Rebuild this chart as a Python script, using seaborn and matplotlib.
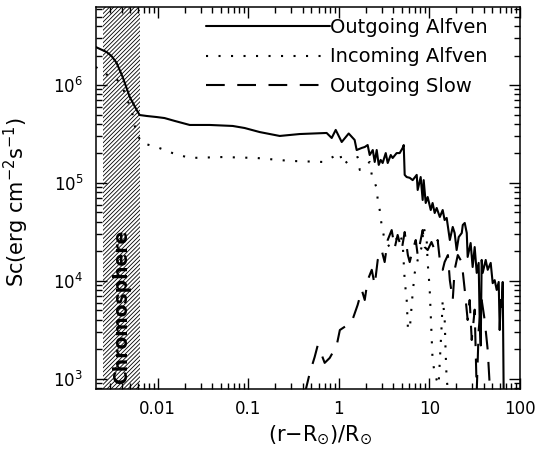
import numpy as np
import pandas as pd
import matplotlib
matplotlib.use("Agg")
import matplotlib.pyplot as plt
import matplotlib.transforms as mtransforms
import seaborn as sns
from matplotlib.lines import Line2D
from matplotlib.ticker import (FixedLocator, FixedFormatter, LogLocator, NullFormatter,
                               LogFormatterSciNotation)

# ---------------------------------------------------------------- data
# height above the photosphere, (r - Rsun)/Rsun, and energy flux Sc (erg cm^-2 s^-1)
out_alfven_x = [0.00207, 0.00273, 0.00310, 0.00352, 0.00410, 0.00491, 0.00586, 0.00632,
                0.00755, 0.00975, 0.0119, 0.0154, 0.0226, 0.0376, 0.0674, 0.0914, 0.134,
                0.223, 0.371, 0.736, 0.837, 0.927, 1.08, 1.29, 1.50, 1.58, 1.80, 1.94,
                2.09, 2.20, 2.38, 2.50, 2.63, 2.77, 2.91, 3.06, 3.31, 3.48, 3.76, 3.95,
                4.37, 4.72, 5.09, 5.23, 5.36, 5.64, 6.09, 6.57, 7.28, 7.46, 8.05, 8.47,
                8.69, 9.15, 9.62, 10.4, 10.9, 11.5, 12.1, 13.1, 14.1, 14.8, 15.6, 16.9,
                18.2, 19.1, 20.1, 21.2, 22.9, 23.5, 24.7, 26.0, 26.6, 28.7, 30.2, 31.8,
                33.5, 35.2, 36.1, 37.1, 38.0, 39.0, 42.1, 44.3, 47.8, 50.3, 52.9, 55.7,
                58.6, 60.1, 61.7, 63.2, 64.9, 66.5]
out_alfven_y = [2.44e6, 2.17e6, 1.97e6, 1.68e6, 1.21e6, 7.55e5, 5.56e5, 4.94e5,
                4.83e5, 4.71e5, 4.60e5, 4.30e5, 3.91e5, 3.91e5, 3.82e5, 3.64e5, 3.31e5,
                3.02e5, 3.16e5, 3.24e5, 2.88e5, 3.48e5, 2.62e5, 3.2e5, 2.75e5, 2.17e5, 2.28e5, 2.33e5,
                2.44e5, 1.93e5, 2.17e5, 1.64e5, 2.17e5, 1.53e5, 1.72e5, 1.60e5, 2.02e5, 1.60e5, 1.93e5, 1.80e5,
                2.02e5, 2.02e5, 2.28e5, 2.44e5, 1.21e5, 1.15e5, 1.13e5, 1.07e5, 1.21e5, 8.49e4, 1.15e5, 6.71e4,
                1.07e5, 6.25e4, 7.19e4, 5.30e4, 6.25e4, 4.94e4, 5.56e4, 4.50e4, 5.30e4, 4.19e4, 4.40e4, 2.62e4,
                3.56e4, 3.09e4, 2.07e4, 2.81e4, 3.09e4, 3.73e4, 3.91e4, 3.09e4, 1.76e4, 2.44e4, 1.39e4, 2.22e4,
                1.21e4, 1.53e4, 4.0e3, 2.2e3, 1.64e4, 1.21e4, 1.64e4, 1.30e4, 1.53e4, 9.5e3, 1.02e4, 8.1e3,
                9.77e3, 3.16e3, 6.4e3, 5.43e3, 9.77e3, 7.0e2]

in_alfven_x = [0.00207, 0.00260, 0.00344, 0.00410, 0.00454, 0.00516, 0.00543, 0.00586,
               0.00665, 0.00975, 0.0146, 0.0226, 0.0523, 0.124, 0.288, 0.665, 0.859,
               1.03, 1.11, 1.32, 1.62, 1.71, 2.20, 2.32, 2.63, 2.70, 2.84, 2.98, 3.22,
               3.66, 4.16, 4.72, 5.09, 5.36, 5.64, 5.81, 6.09, 6.57, 6.92, 7.46, 8.26,
               8.69, 9.38, 9.62, 10.1, 10.6, 10.9, 11.5, 12.1, 12.7, 13.7, 14.1, 14.8,
               15.2, 15.6, 16.4]
in_alfven_y = [1.53e6, 1.30e6, 1.18e6, 9.54e5, 7.20e5, 5.69e5, 4.19e5, 3.24e5,
               2.56e5, 2.33e5, 2.02e5, 1.80e5, 1.84e5, 1.80e5, 1.68e5, 1.64e5, 1.84e5,
               2.02e5, 1.53e5, 1.72e5, 1.84e5, 1.36e5, 1.64e5, 1.21e5, 8.89e4, 6.71e4, 5.30e4, 3.73e4, 2.62e4,
               2.22e4, 2.50e4, 3.09e4, 2.44e4, 1.02e4, 6.4e3, 3.4e3, 3.16e3, 7.55e3, 1.21e4, 1.64e4, 2.22e4,
               3.56e4, 2.62e4, 1.53e4, 8.69e3, 2.95e3, 1.56e3, 1.15e3, 9.77e2, 8.7e2, 3.4e3, 6.4e3, 4.3e3,
               1.84e3, 9.77e2, 7.0e2]

out_slow_x = [0.421, 0.479, 0.543, 0.586, 0.649, 0.700, 0.796, 0.950, 1.03, 1.39, 1.62,
              1.80, 1.94, 2.09, 2.32, 2.50, 2.70, 2.98, 3.22, 3.48, 3.85, 4.16, 4.48,
              4.96, 5.36, 5.81, 6.09, 6.57, 7.10, 7.46, 7.85, 8.47, 8.92, 9.62, 10.6,
              11.5, 12.4, 13.1, 14.1, 14.8, 16.1, 16.9, 18.2, 19.1, 20.7, 22.9, 24.7,
              26.6, 28.0, 29.5, 31.8, 33.5, 35.2, 38.0, 41.0, 44.3, 46.6]
out_slow_y = [7.0e2, 1.15e3, 1.68e3, 2.2e3, 1.76e3, 1.46e3, 1.64e3, 2.2e3, 3.16e3, 3.8e3, 5.7e3,
              8.1e3, 6.4e3, 1.02e4, 1.30e4, 9.1e3, 1.64e4, 2.07e4, 1.56e4, 2.62e4, 3.31e4, 2.18e4, 2.95e4,
              2.07e4, 3.16e4, 1.84e4, 1.56e4, 2.07e4, 2.62e4, 1.84e4, 2.33e4, 3.31e4, 2.22e4, 2.07e4, 2.50e4,
              2.07e4, 2.62e4, 1.64e4, 1.30e4, 1.56e4, 1.84e4, 1.02e4, 6.4e3, 1.30e4, 1.84e4, 1.56e4, 8.1e3,
              4.0e3, 6.4e3, 2.5e3, 5.1e3, 7.4e2, 3.16e3, 6.4e3, 4.0e3, 1.98e3, 8.7e2]

series_names = ["Outgoing Alfven", "Incoming Alfven", "Outgoing Slow"]
chromosphere_span = (0.00247, 0.00632)
x_ticks = [0.01, 0.1, 1, 10, 100]
x_tick_labels = ["0.01", "0.1", "1", "10", "100"]
y_ticks = [1e3, 1e4, 1e5, 1e6]

# ---------------------------------------------------------------- style
sns.set_style("ticks")
plt.rcParams["font.family"] = ["DejaVu Sans"]
plt.rcParams["mathtext.fontset"] = "dejavusans"
plt.rcParams["hatch.linewidth"] = 0.6
for key in ("text.color", "axes.labelcolor", "xtick.color", "ytick.color",
            "axes.edgecolor"):
    plt.rcParams[key] = "black"

fig = plt.figure(figsize=(5.38, 4.55), dpi=100)
ax = fig.add_axes([0.178, 0.145, 0.788, 0.8396])
ax.set_xscale("log")
ax.set_yscale("log")

# chromosphere band
ax.axvspan(*chromosphere_span, facecolor="none", edgecolor="black",
           hatch="////////", linewidth=0, zorder=1)
band = mtransforms.blended_transform_factory(ax.transData, ax.transAxes)
ax.text(np.sqrt(chromosphere_span[0] * chromosphere_span[1]) * 1.02, 0.012,
        "Chromosphere", transform=band, rotation=90, ha="center", va="bottom",
        fontsize=13.5, fontweight="bold", zorder=3)

styles = ["-", (0, (1, 5)), (0, (9, 6))]
frames = [
    pd.DataFrame({"x": out_alfven_x, "y": out_alfven_y}),
    pd.DataFrame({"x": in_alfven_x, "y": in_alfven_y}),
    pd.DataFrame({"x": out_slow_x, "y": out_slow_y}),
]
for df, ls in zip(frames, styles):
    sns.lineplot(data=df, x="x", y="y", ax=ax, color="black", linewidth=1.5,
                 estimator=None, sort=False, zorder=4)
    ax.lines[-1].set_linestyle(ls)

ax.set_xlim(0.00207, 100)
ax.set_ylim(790, 6.25e6)

ax.xaxis.set_major_locator(FixedLocator(x_ticks))
ax.xaxis.set_major_formatter(FixedFormatter(x_tick_labels))
ax.xaxis.set_minor_locator(LogLocator(base=10, subs=np.arange(2, 10), numticks=20))
ax.xaxis.set_minor_formatter(NullFormatter())
ax.yaxis.set_major_locator(FixedLocator(y_ticks))
ax.yaxis.set_major_formatter(LogFormatterSciNotation())
ax.yaxis.set_minor_locator(LogLocator(base=10, subs=np.arange(2, 10), numticks=20))
ax.yaxis.set_minor_formatter(NullFormatter())

ax.tick_params(which="both", direction="in", top=True, right=True, width=1,
               labelsize=12, color="black", labelcolor="black")
ax.tick_params(which="major", length=8)
ax.tick_params(which="minor", length=4)
ax.tick_params(axis="x", pad=8)
ax.tick_params(axis="y", pad=9)
for s in ax.spines.values():
    s.set_linewidth(1.1)
    s.set_color("black")

ax.set_xlabel(r"(r$-$R$_{\odot}$)/R$_{\odot}$", fontsize=15)
ax.set_ylabel(r"Sc(erg cm$^{-2}$s$^{-1}$)", fontsize=15)
ax.xaxis.set_label_coords(0.528, -0.09)
ax.yaxis.set_label_coords(-0.153, 0.49)

handles = [Line2D([], [], color="black", lw=1.5, linestyle=ls) for ls in styles]
ax.legend(handles, series_names, loc="upper right", bbox_to_anchor=(0.925, 0.972),
          frameon=False, handlelength=6.4, handletextpad=0.0, fontsize=14,
          labelspacing=0.55, borderpad=0, borderaxespad=0)

fig.savefig("out.png", dpi=100)
